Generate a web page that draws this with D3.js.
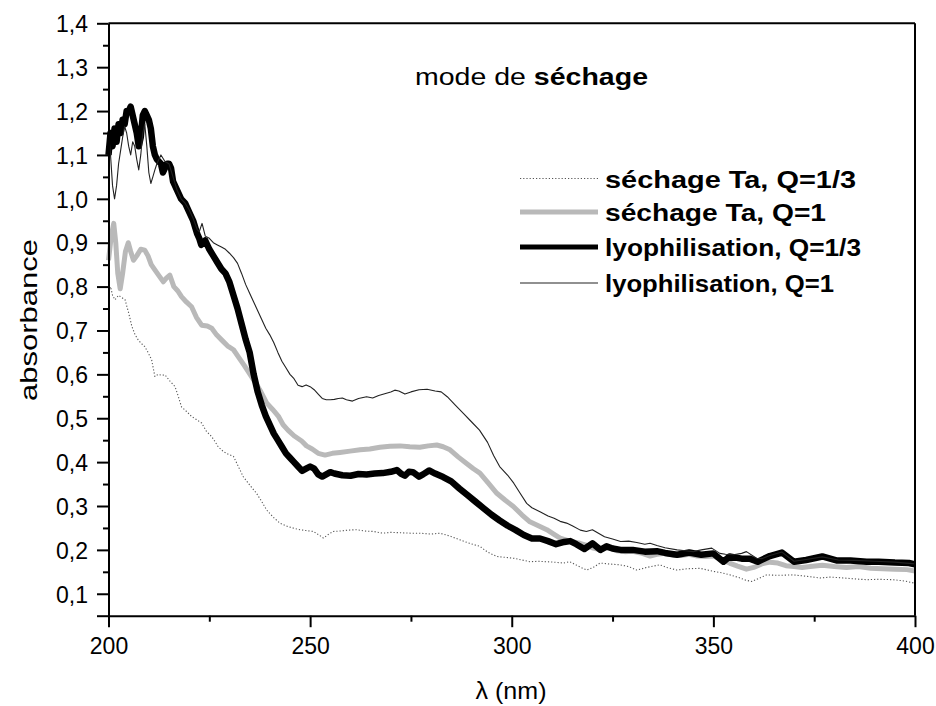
<!DOCTYPE html>
<html><head><meta charset="utf-8">
<script src="https://cdnjs.cloudflare.com/ajax/libs/d3/7.8.5/d3.min.js"></script>
<style>body{margin:0;background:#fff}svg{display:block}text{font-family:"Liberation Sans",Arial,sans-serif;fill:#000}</style>
</head><body><svg id="c" width="936" height="706"></svg>
<script>
// ---- data ----
const xTicks = [200, 250, 300, 350, 400];
const yTicks = [0.1,0.2,0.3,0.4,0.5,0.6,0.7,0.8,0.9,1.0,1.1,1.2,1.3,1.4];
const seriesNames = ["séchage Ta, Q=1/3", "séchage Ta, Q=1", "lyophilisation, Q=1/3", "lyophilisation, Q=1"];

const sechageQ13 = [[200,0.79],[200.5,0.80],[201,0.78],[201.6,0.77],[202.5,0.78],[203.3,0.775],[204.1,0.77],[205,0.74],[205.8,0.709],[206.6,0.69],[207.4,0.678],[208.2,0.67],[209,0.663],[209.8,0.65],[210.7,0.633],[211.5,0.595],[212.3,0.60],[213.2,0.598],[214,0.599],[215.2,0.585],[216.5,0.572],[217.3,0.55],[218.1,0.526],[219.4,0.515],[220.6,0.504],[221.8,0.497],[223.1,0.489],[224.3,0.47],[225.6,0.458],[226.4,0.447],[227.2,0.435],[228.5,0.424],[229.7,0.418],[231,0.413],[232.2,0.39],[233.4,0.367],[235,0.348],[236.7,0.329],[238,0.31],[239.2,0.291],[240.8,0.275],[242.5,0.261],[244.5,0.253],[246.5,0.248],[247.5,0.246],[249,0.244],[250.8,0.242],[252,0.235],[253.3,0.227],[254.5,0.235],[255.7,0.242],[257.5,0.243],[259.5,0.245],[261.5,0.246],[263.5,0.243],[265.7,0.242],[268,0.238],[270,0.24],[272.3,0.239],[275,0.238],[277.2,0.238],[280,0.236],[282.2,0.238],[284.5,0.232],[287.1,0.223],[289.5,0.215],[292.1,0.208],[294,0.195],[296.3,0.185],[298.3,0.183],[300.4,0.181],[302.5,0.177],[304.5,0.173],[306.6,0.174],[308.7,0.173],[310.5,0.172],[312.8,0.17],[314.4,0.173],[316.5,0.163],[318.6,0.154],[320.2,0.16],[321.9,0.17],[324,0.168],[326.8,0.166],[329,0.162],[331,0.154],[333.5,0.16],[336.7,0.166],[338.5,0.16],[340.9,0.154],[343.5,0.157],[346.7,0.158],[350,0.151],[352,0.148],[354.5,0.142],[356.6,0.136],[358,0.131],[359.5,0.128],[361.5,0.136],[363.2,0.143],[366,0.142],[369.8,0.143],[373,0.14],[376.4,0.136],[379,0.138],[382.2,0.136],[385,0.134],[388,0.132],[391,0.133],[394.6,0.132],[397.5,0.129],[400,0.124]];

const sechageQ1 = [[200,0.86],[200.5,0.90],[201,0.93],[201.3,0.944],[201.8,0.90],[202.3,0.83],[202.9,0.795],[203.5,0.83],[204.2,0.88],[204.9,0.90],[205.5,0.88],[206.2,0.86],[207,0.87],[208,0.885],[209,0.883],[209.8,0.87],[210.6,0.85],[211.5,0.838],[212.5,0.825],[213.6,0.811],[214.4,0.82],[215.2,0.826],[216.2,0.80],[217.2,0.79],[218.1,0.777],[219.3,0.765],[220.6,0.754],[221.8,0.73],[223.1,0.712],[224.5,0.71],[225.6,0.705],[226.8,0.69],[228.1,0.678],[229.5,0.665],[231,0.656],[232.2,0.64],[233.7,0.62],[235.1,0.60],[236.5,0.58],[237.8,0.56],[239.2,0.535],[240.7,0.52],[242.1,0.505],[243.3,0.485],[244.5,0.473],[246,0.46],[247.9,0.448],[249.1,0.437],[250.5,0.43],[252,0.42],[253.7,0.416],[255.5,0.42],[257.4,0.422],[259.9,0.425],[262.4,0.428],[264.8,0.43],[267.3,0.434],[269.8,0.436],[272.3,0.437],[274.7,0.435],[277.2,0.434],[279.3,0.437],[281.4,0.439],[283,0.435],[284.7,0.428],[286.7,0.412],[288.8,0.397],[290.5,0.385],[292.1,0.375],[294.2,0.352],[296.3,0.329],[298.4,0.313],[300.4,0.299],[302.5,0.28],[304.5,0.264],[306.6,0.255],[308.7,0.246],[310.4,0.236],[312,0.227],[314.4,0.22],[316.9,0.215],[318.6,0.21],[320.2,0.204],[322,0.20],[324,0.205],[326,0.198],[328,0.196],[330,0.197],[332,0.193],[334.3,0.186],[336,0.19],[338,0.192],[340,0.188],[342,0.187],[344,0.19],[346,0.186],[348,0.185],[350,0.186],[352,0.178],[354,0.17],[356,0.163],[358.2,0.156],[360,0.16],[362,0.168],[364,0.172],[366,0.17],[368,0.164],[370,0.162],[372,0.16],[374,0.162],[377,0.165],[380,0.162],[383,0.16],[386,0.162],[389,0.158],[392,0.157],[395,0.156],[398,0.155],[400,0.152]];

const lyoQ13 = [[200,1.10],[200.5,1.15],[201,1.12],[201.5,1.16],[202,1.13],[202.5,1.17],[203,1.15],[203.5,1.18],[204,1.17],[204.5,1.20],[205,1.20],[205.5,1.21],[206,1.19],[207,1.15],[207.5,1.12],[208,1.14],[208.5,1.19],[209,1.20],[209.5,1.19],[210,1.18],[210.5,1.16],[211,1.12],[211.5,1.10],[212,1.09],[213,1.08],[213.5,1.06],[214,1.07],[214.5,1.08],[215,1.08],[215.5,1.07],[216,1.04],[217,1.02],[218,1.00],[219,0.99],[220,0.97],[221,0.95],[222,0.92],[222.5,0.91],[223,0.895],[223.5,0.90],[224,0.905],[225,0.885],[226,0.87],[227,0.855],[228,0.84],[229,0.83],[230,0.81],[231,0.78],[232,0.75],[233,0.715],[234,0.68],[235,0.65],[236,0.60],[237,0.56],[238,0.53],[239,0.505],[240,0.485],[241,0.465],[242,0.45],[243,0.435],[244,0.42],[245,0.41],[246,0.40],[247,0.39],[248,0.38],[249,0.385],[250,0.39],[251,0.385],[252,0.372],[253,0.367],[254,0.372],[255,0.377],[256,0.374],[258,0.370],[260,0.369],[262,0.373],[264,0.372],[266,0.374],[268,0.375],[270,0.378],[271.5,0.382],[272.5,0.374],[273.5,0.369],[274.5,0.378],[275.5,0.377],[277,0.367],[278,0.372],[279.5,0.381],[281,0.374],[283,0.366],[285,0.356],[287,0.340],[289,0.325],[291,0.31],[293,0.295],[295,0.28],[297,0.267],[299,0.255],[301,0.245],[303,0.234],[305,0.226],[307,0.226],[309,0.22],[311,0.213],[313,0.218],[314.5,0.22],[316,0.213],[318,0.202],[320,0.215],[322,0.20],[323.5,0.208],[325,0.203],[327,0.20],[330,0.20],[333,0.196],[336,0.197],[338,0.193],[341,0.189],[344,0.194],[347,0.189],[350,0.192],[352.5,0.173],[354,0.185],[357,0.18],[359,0.18],[361,0.173],[364,0.186],[367,0.194],[370,0.173],[373,0.177],[377,0.185],[380.5,0.176],[384,0.176],[388,0.173],[391,0.173],[395,0.171],[398.5,0.17],[400,0.167]];

const lyoQ1 = [[200,1.15],[200.5,1.10],[201,1.03],[201.5,1.00],[202,1.03],[202.5,1.08],[203,1.11],[203.5,1.14],[204,1.165],[204.5,1.15],[205,1.12],[205.5,1.10],[206,1.13],[206.5,1.12],[207,1.09],[207.5,1.066],[208,1.10],[208.5,1.15],[209,1.17],[209.5,1.12],[210,1.06],[210.5,1.035],[211,1.05],[211.5,1.066],[212,1.08],[213,1.10],[214,1.085],[215,1.08],[216,1.05],[217,1.02],[218,1.00],[219,0.99],[220,0.975],[221,0.955],[222,0.93],[222.5,0.925],[223.2,0.944],[224,0.915],[225,0.91],[226,0.90],[227,0.895],[228,0.89],[229,0.885],[230,0.876],[231,0.866],[232,0.853],[233,0.83],[234,0.805],[235,0.785],[236,0.765],[237,0.745],[238,0.725],[239,0.705],[240,0.69],[241,0.672],[242,0.65],[243,0.63],[244,0.615],[245,0.60],[246,0.59],[247,0.575],[248,0.572],[249,0.576],[250,0.572],[251,0.565],[252,0.555],[253,0.545],[254,0.542],[255,0.542],[256,0.543],[257,0.545],[258,0.546],[259,0.542],[260.5,0.539],[262,0.545],[264,0.549],[265.5,0.546],[267,0.552],[268.5,0.556],[270,0.56],[271,0.564],[272,0.562],[273.5,0.555],[275,0.56],[277,0.565],[279,0.566],[281,0.562],[282.5,0.56],[284,0.549],[286,0.53],[288,0.511],[290,0.492],[292,0.473],[294,0.445],[295.5,0.415],[297,0.39],[299,0.37],[300.5,0.352],[302,0.33],[303.7,0.306],[305,0.296],[307,0.287],[309,0.277],[310.5,0.272],[312,0.265],[313.6,0.261],[315,0.255],[317,0.245],[318.5,0.242],[320,0.246],[321.5,0.238],[323,0.23],[325,0.225],[327,0.219],[329,0.22],[331,0.217],[333,0.213],[334.3,0.215],[336,0.21],[338,0.205],[341,0.20],[343,0.198],[345,0.196],[347,0.20],[349.6,0.204],[351.6,0.192],[353,0.19],[355,0.189],[357,0.192],[358.2,0.196],[360.7,0.181],[362,0.18],[364,0.187],[367,0.195],[370,0.174],[373,0.178],[377,0.184],[381,0.177],[385,0.176],[390,0.174],[395,0.172],[400,0.168]];

// ---- layout ----
const L = 108.5, R = 915, T = 23.3, B = 615.7;
const svg = d3.select("#c");
const x = d3.scaleLinear().domain([200, 400]).range([L, R]);
const y = d3.scaleLinear().domain([0.05, 1.4]).range([B, T]);

const styles = [
  {data: sechageQ13, color: "#555", width: 1.1, dash: "1.2,2", legW: 1.1},
  {data: sechageQ1, color: "#b9b9b9", width: 5, dash: null, legW: 5},
  {data: lyoQ13, color: "#000", width: 6.5, dash: null, legW: 5},
  {data: lyoQ1, color: "#222", width: 1.1, dash: null, legW: 1.1}
];

const line = d3.line().x(d => x(d[0])).y(d => y(d[1]));
const plot = svg.append("g");
styles.forEach(s => {
  plot.append("path").datum(s.data).attr("d", line)
    .attr("fill", "none").attr("stroke", s.color).attr("stroke-width", s.width)
    .attr("stroke-linejoin", "round").attr("stroke-linecap", "butt")
    .attr("stroke-dasharray", s.dash);
});

// frame
svg.append("line").attr("x1", L).attr("x2", R).attr("y1", T).attr("y2", T).attr("stroke", "#000").attr("stroke-width", 2);
svg.append("line").attr("x1", R).attr("x2", R).attr("y1", T).attr("y2", B).attr("stroke", "#000").attr("stroke-width", 2);

// axes
const fmt = d => d3.format(".1f")(d).replace(".", ",");
const yMinor = d3.range(0.05, 1.4, 0.1).map(v => +v.toFixed(2));
const xMinor = [225, 275, 325, 375];

const yAx = svg.append("g").attr("transform", `translate(${L},0)`)
  .call(d3.axisLeft(y).tickValues(yTicks).tickFormat(fmt).tickSize(11.5).tickPadding(9).tickSizeOuter(0));
svg.append("g").attr("transform", `translate(${L},0)`)
  .call(d3.axisLeft(y).tickValues(yMinor.filter(v => v > 0.06)).tickFormat("").tickSize(5.5).tickSizeOuter(0))
  .select(".domain").remove();
svg.append("g").attr("transform", `translate(${L},0)`)
  .call(d3.axisLeft(y).tickValues([0.05]).tickFormat("").tickSize(11.5).tickSizeOuter(0))
  .select(".domain").remove();

const xAx = svg.append("g").attr("transform", `translate(0,${B})`)
  .call(d3.axisBottom(x).tickValues(xTicks).tickFormat(d3.format("d")).tickSize(11.5).tickPadding(10).tickSizeOuter(0));
svg.append("g").attr("transform", `translate(0,${B})`)
  .call(d3.axisBottom(x).tickValues(xMinor).tickFormat("").tickSize(6).tickSizeOuter(0))
  .select(".domain").remove();

svg.selectAll(".domain").attr("stroke-width", 2);
svg.selectAll(".tick line").attr("stroke-width", 2);
yAx.selectAll("text").attr("font-size", 23).attr("font-family", "Liberation Sans, Arial, sans-serif").attr("dy", "0.36em");
xAx.selectAll("text").attr("font-size", 23).attr("font-family", "Liberation Sans, Arial, sans-serif");

// axis titles
svg.append("text").attr("transform", "translate(37,320) rotate(-90)")
  .attr("text-anchor", "middle").attr("font-size", 24)
  .attr("textLength", 162).attr("lengthAdjust", "spacingAndGlyphs").text("absorbance");
svg.append("text").attr("x", 511).attr("y", 699).attr("text-anchor", "middle")
  .attr("font-size", 24).attr("textLength", 71).attr("lengthAdjust", "spacingAndGlyphs").text("λ (nm)");

// title
const tt = svg.append("text").attr("x", 415).attr("y", 85).attr("font-size", 23)
  .attr("textLength", 233).attr("lengthAdjust", "spacingAndGlyphs");
tt.append("tspan").text("mode de ");
tt.append("tspan").attr("font-weight", "bold").text("séchage");

// legend
const legY = [178.5, 212, 247, 283];
const legTW = [251, 221, 256, 229];
const leg = svg.append("g");
styles.forEach((s, i) => {
  leg.append("line").attr("x1", 520).attr("x2", 598).attr("y1", legY[i]).attr("y2", legY[i])
    .attr("stroke", s.color).attr("stroke-width", s.legW)
    .attr("stroke-dasharray", s.dash);
  leg.append("text").attr("x", 605).attr("y", legY[i] + 9).attr("font-size", 23).attr("font-weight", "bold")
    .attr("textLength", legTW[i]).attr("lengthAdjust", "spacingAndGlyphs").text(seriesNames[i]);
});
</script></body></html>
